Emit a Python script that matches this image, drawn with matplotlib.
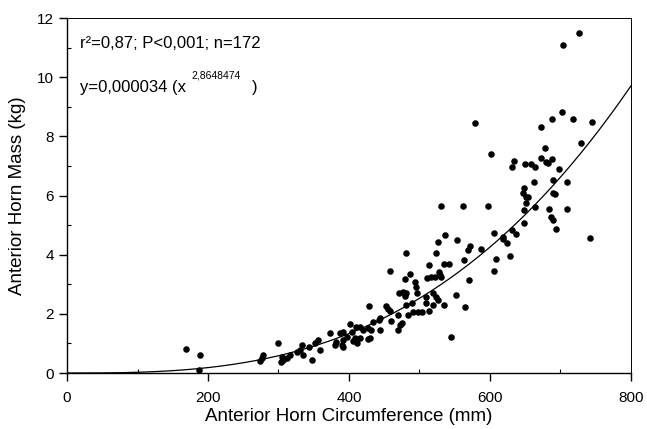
import numpy as np
import matplotlib
matplotlib.use("Agg")
import matplotlib.pyplot as plt
from matplotlib.ticker import MultipleLocator

plt.rcParams['font.family'] = ['Liberation Sans', 'DejaVu Sans']

# horn circumference (mm) and horn mass (kg)
circumference = [169, 189, 187, 274, 276, 278, 300, 303, 305, 307, 312, 316, 326, 330, 333,
                 335, 343, 347, 352, 356, 359, 373, 380, 382, 387, 390, 392, 392, 392, 397,
                 401, 404, 406, 408, 410, 411, 416, 416, 420, 427, 427, 430, 432, 434, 442,
                 444, 444, 429, 453, 456, 458, 458, 460, 470, 472, 475, 470, 471, 477, 481,
                 479, 479, 481, 481, 484, 487, 489, 491, 494, 495, 496, 498, 503, 509, 509,
                 514, 520, 520, 524, 527, 511, 517, 522, 530, 528, 529, 513, 535, 542, 523,
                 527, 536, 531, 535, 545, 552, 553, 562, 563, 565, 569, 572, 571, 579, 588,
                 598, 602, 606, 606, 609, 618, 619, 624, 628, 632, 637, 634, 632, 647, 648,
                 648, 649, 650, 651, 654, 651, 659, 662, 664, 664, 673, 673, 678, 680, 683,
                 688, 688, 684, 687, 689, 689, 690, 693, 694, 698, 702, 704, 709, 710, 718,
                 727, 729, 742, 745]
mass = [0.80, 0.61, 0.10, 0.41, 0.50, 0.61, 1.00, 0.38, 0.55, 0.44, 0.50, 0.61, 0.72, 0.78, 0.95,
        0.61, 0.89, 0.44, 1.00, 1.11, 0.78, 1.34, 0.95, 1.06, 1.34, 0.95, 1.11, 0.89, 1.40, 1.23,
        1.66, 1.40, 1.09, 1.17, 1.54, 1.02, 1.20, 1.56, 1.45, 1.51, 1.14, 1.17, 1.45, 1.73, 1.79,
        1.85, 1.45, 2.26, 2.26, 2.15, 2.10, 3.45, 1.76, 1.45, 1.62, 1.70, 1.96, 2.69, 2.75, 2.71,
        2.60, 3.17, 4.04, 2.30, 1.96, 3.34, 2.35, 2.07, 3.06, 2.90, 2.69, 2.07, 2.07, 2.35, 2.56,
        2.10, 2.30, 2.69, 2.58, 2.47, 3.20, 3.23, 3.25, 3.23, 3.42, 3.31, 3.65, 3.67, 3.67, 4.06,
        4.44, 4.66, 5.64, 2.30, 1.23, 2.64, 4.49, 5.64, 3.82, 2.22, 4.16, 4.29, 3.14, 8.44, 4.18,
        5.64, 7.39, 4.72, 3.46, 3.87, 4.52, 4.61, 4.38, 3.95, 4.83, 4.69, 7.16, 6.95, 6.07, 6.26,
        5.51, 5.06, 7.06, 5.94, 5.96, 5.75, 7.08, 6.46, 6.95, 5.62, 8.32, 7.27, 7.61, 7.14, 7.11,
        7.23, 8.57, 5.56, 5.28, 5.17, 6.52, 6.07, 6.05, 4.86, 6.88, 8.81, 11.10, 5.53, 6.46, 8.57,
        11.48, 7.76, 4.58, 8.47]

# power curve: exponent from the figure, scale matched to the drawn line
exponent = 2.8648474
mass_at_800 = 9.7

fig = plt.figure(figsize=(6.47, 4.29), dpi=100)
ax = fig.add_axes([0.1036, 0.1305, 0.8714, 0.8275])

ax.plot(circumference, mass, 'o', color='black', markersize=4.7, markeredgewidth=0)

xs = np.linspace(0, 800, 300)
ax.plot(xs, mass_at_800 * (xs / 800.0) ** exponent, color='black', linewidth=0.9)

ax.set_xlim(0, 800)
ax.set_ylim(0, 12)
ax.xaxis.set_major_locator(MultipleLocator(200))
ax.xaxis.set_minor_locator(MultipleLocator(100))
ax.yaxis.set_major_locator(MultipleLocator(2))
ax.yaxis.set_minor_locator(MultipleLocator(1))
ax.tick_params(which='major', direction='out', length=6, width=1, labelsize=11)
ax.tick_params(which='minor', direction='in', length=3, width=0.8)
ax.tick_params(axis='x', pad=7)
for sp in ax.spines.values():
    sp.set_linewidth(1.0)
ax.spines['top'].set_linewidth(0.7)
ax.spines['right'].set_linewidth(0.7)

ax.set_xlabel('Anterior Horn Circumference (mm)', fontsize=13.5, labelpad=2)
ax.set_ylabel('Anterior Horn Mass (kg)', fontsize=13.5, labelpad=8)

ax.text(18, 11.15, 'r\u00b2=0,87; P<0,001; n=172', fontsize=12, va='center')
ax.text(18, 9.66, 'y=0,000034 (x', fontsize=12, va='center')
ax.text(177, 10.07, '2,8648474', fontsize=7.5, va='center')
ax.text(262, 9.66, ')', fontsize=12, va='center')

fig.savefig('out.png', dpi=100)
